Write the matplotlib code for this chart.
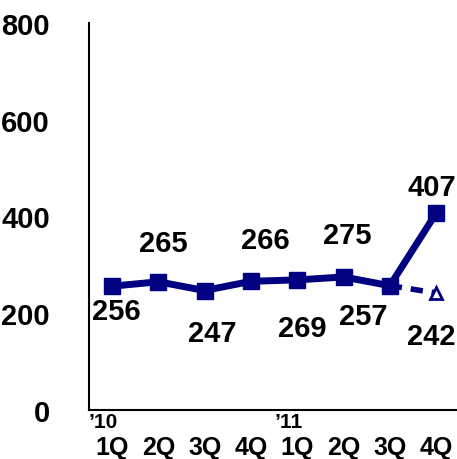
import matplotlib.pyplot as plt
from matplotlib import font_manager

# quarterly figures, '10 1Q through '11 4Q
quarters = ["1Q", "2Q", "3Q", "4Q", "1Q", "2Q", "3Q", "4Q"]
years = ["\u201910", "\u201911"]
actual = [256, 265, 247, 266, 269, 275, 257, 407]
forecast_q = [6, 7]
forecast = [257, 242]

names = {f.name for f in font_manager.fontManager.ttflist}
fam = "Liberation Sans Narrow" if "Liberation Sans Narrow" in names else "Liberation Sans"
plt.rcParams["font.family"] = [fam, "DejaVu Sans"]
plt.rcParams["font.weight"] = "bold"

navy = "#000080"

fig = plt.figure(figsize=(4.57, 4.60), dpi=100)
ax = fig.add_axes([89 / 457, 49 / 460, 368 / 457, 387 / 460])

x = list(range(len(actual)))
ax.plot(forecast_q, forecast, color=navy, lw=4, ls=(0, (2.2, 1.6)), zorder=2)
ax.plot(forecast_q[-1], forecast[-1], marker="^", ms=8, mfc="white", mec=navy, mew=2, zorder=3)
ax.plot(x, actual, color=navy, lw=5, marker="s", ms=12, zorder=4)

ax.set_xlim(-0.5, 7.45)
ax.set_ylim(0, 800)
ax.set_yticks([0, 200, 400, 600, 800])
ax.set_xticks(x)
ax.set_xticklabels(quarters)
ax.tick_params(axis="y", length=0, pad=28, labelsize=21)
ax.tick_params(axis="x", length=0, pad=18, labelsize=18)
for s in ["top", "right"]:
    ax.spines[s].set_visible(False)
for s in ["left", "bottom"]:
    ax.spines[s].set_linewidth(1.5)

# year markers above the quarter labels
ax.text(-0.5, -5, years[0], ha="left", va="top", fontsize=15, fontweight="bold")
ax.text(3.5, -5, years[1], ha="left", va="top", fontsize=15, fontweight="bold")

# value labels
offsets = [(0.1, -52), (0.1, 80), (0.17, -88), (0.3, 85),
           (0.1, -99), (0.08, 86), (-0.58, -62), (-0.1, 54)]
for xi, v, (dx, dy) in zip(x, actual, offsets):
    ax.text(xi + dx, v + dy, str(v), ha="center", va="center", fontsize=21)
ax.text(forecast_q[-1] - 0.1, forecast[-1] - 90, str(forecast[-1]),
        ha="center", va="center", fontsize=21)

fig.savefig("out.png", dpi=100)
